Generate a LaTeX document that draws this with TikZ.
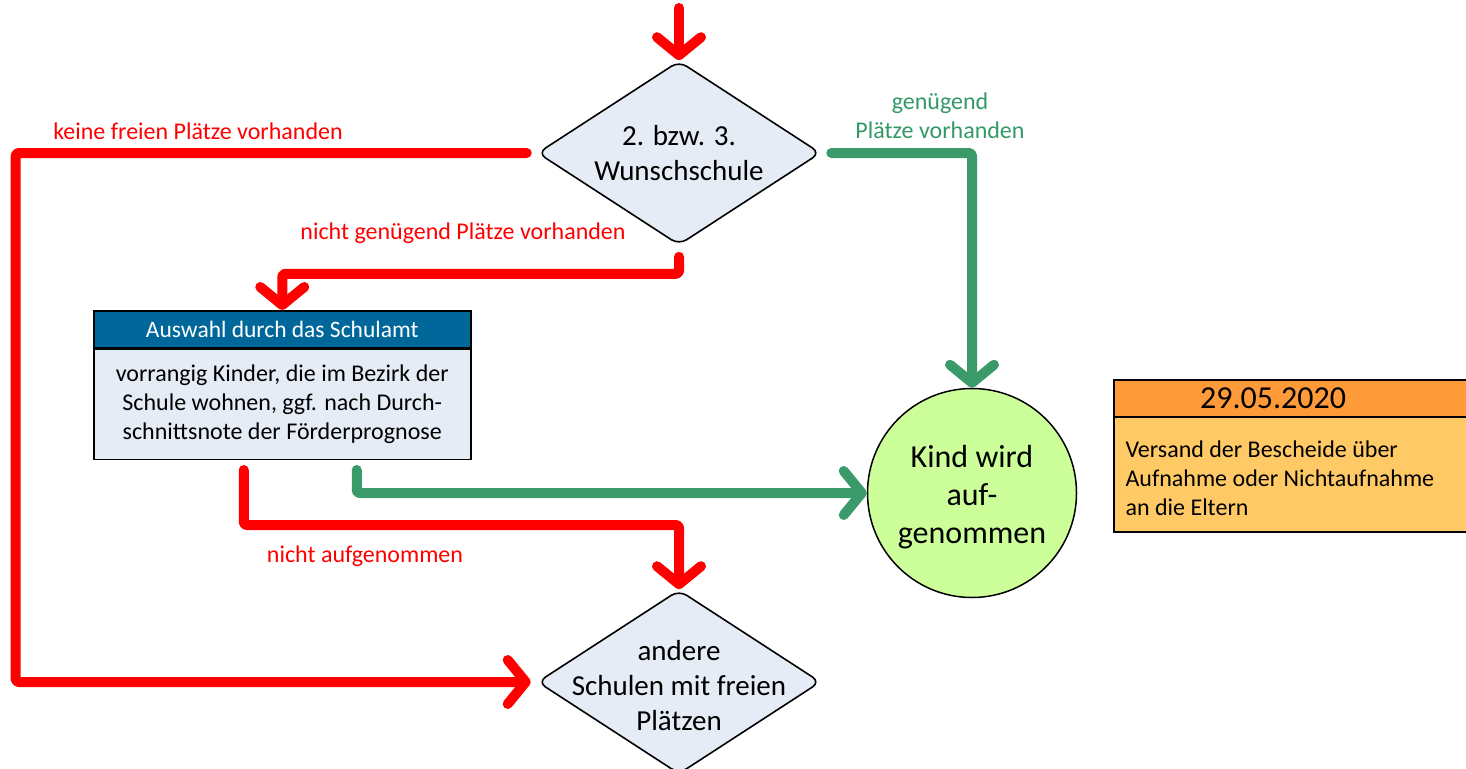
\documentclass[tikz,border=0pt]{standalone}
\usepackage{fontspec}
\setmainfont{Carlito}
\usetikzlibrary{arrows.meta,shapes.geometric}
\definecolor{rd}{HTML}{FF0000}
\definecolor{gn}{HTML}{3A9A6A}
\definecolor{gtext}{HTML}{339966}
\definecolor{dfill}{HTML}{E6ECF6}
\definecolor{hblue}{HTML}{00679B}
\definecolor{cfill}{HTML}{CCFF99}
\definecolor{ohead}{HTML}{FF9A38}
\definecolor{obody}{HTML}{FFCA66}
\begin{document}
\begin{tikzpicture}[x=1pt,y=-1pt,
  conn/.style={line width=10pt, line cap=round, line join=round, rounded corners=3pt},
  tip/.style={-{Straight Barb[length=18pt,width=44pt,round]}},
  decision/.style={diamond, draw=black, line width=1.6pt, fill=dfill, rounded corners=9pt,
    minimum width=283pt, minimum height=184pt, inner sep=0pt, shape aspect=1.538},
  dtext/.style={align=center, font=\fontsize{29}{35}\selectfont},
  lbl/.style={font=\fontsize{24}{29}\selectfont, align=center},
  boxhdr/.style={draw=black, line width=1.5pt, fill=hblue, text=white, minimum width=377pt,
    minimum height=37pt, inner sep=0pt, font=\fontsize{23.5}{24}\selectfont},
  boxbody/.style={draw=black, line width=1.5pt, fill=dfill, minimum width=377pt,
    minimum height=110pt, inner sep=0pt, align=center, font=\fontsize{24}{29}\selectfont}
]
\useasboundingbox (0,0) rectangle (1466,768);

% decisions
\node[decision] (d1) at (679,153) {};
\node[dtext] (d1t) at (d1.center) {2. bzw. 3.\\Wunschschule};
\node[decision] (d2) at (679,682) {};
\node[dtext] (d2t) at ([yshift=-4pt]d2.center) {andere\\Schulen mit freien\\Plätzen};

% Schulamt box
\node[boxhdr, anchor=north west] (hdr) at (93,310) {Auswahl durch das Schulamt};
\node[boxbody, anchor=north] (body) at (hdr.south) {vorrangig Kinder, die im Bezirk der\\Schule wohnen, ggf. nach Durch-\\schnittsnote der Förderprognose};

% circle
\node[circle, draw=black, line width=1.5pt, fill=cfill, minimum size=209pt, inner sep=0pt] (circ) at (972,493) {};
\node[align=center, font=\fontsize{32}{38}\selectfont] (circt) at ([yshift=-4pt]circ.center) {Kind wird\\auf-\\genommen};

% orange date box
\fill[ohead] (1114,380) rectangle (1480,417);
\fill[obody] (1114,417) rectangle (1480,532);
\draw[line width=1.5pt] (1480,380) -- (1114,380) -- (1114,532) -- (1480,532);
\draw[line width=1.5pt] (1114,417) -- (1480,417);
\node[font=\fontsize{32}{36}\selectfont] (date) at (1273,398) {29.05.2020};
\node[anchor=west, align=left, font=\fontsize{24}{29}\selectfont] (obtext) at (1122,478)
  {Versand der Bescheide über\\Aufnahme oder Nichtaufnahme\\an die Eltern};

% labels
\node[lbl, text=rd] (l1) at (198,131) {keine freien Plätze vorhanden};
\node[lbl, text=gtext] (l2) at (940,116) {genügend\\Plätze vorhanden};
\node[lbl, text=rd] (l3) at (463,233) {nicht genügend Plätze vorhanden};
\node[lbl, text=rd] (l4) at (365,556) {nicht aufgenommen};

% connectors
\coordinate (top) at (679,8);
\draw[conn, tip, rd] (top) -- (d1.north);
\draw[conn, tip, rd] ([xshift=-10pt]d1.west) -- ++(-511,0) |- ([xshift=-6pt]d2.west);
\draw[conn, tip, gn] ([xshift=10pt]d1.east) -| (circ.north);
\draw[conn, tip, rd] ([shift={(0,11)}]d1.south) -- ++(0,17) -| (hdr.north);
\draw[conn, tip, rd] ([shift={(-38.5,10)}]body.south) -- ++(0,55) -| (d2.north);
\draw[conn, tip, gn] ([shift={(74.5,10)}]body.south) -- ++(0,23) |- (circ.west);
\end{tikzpicture}
\end{document}
